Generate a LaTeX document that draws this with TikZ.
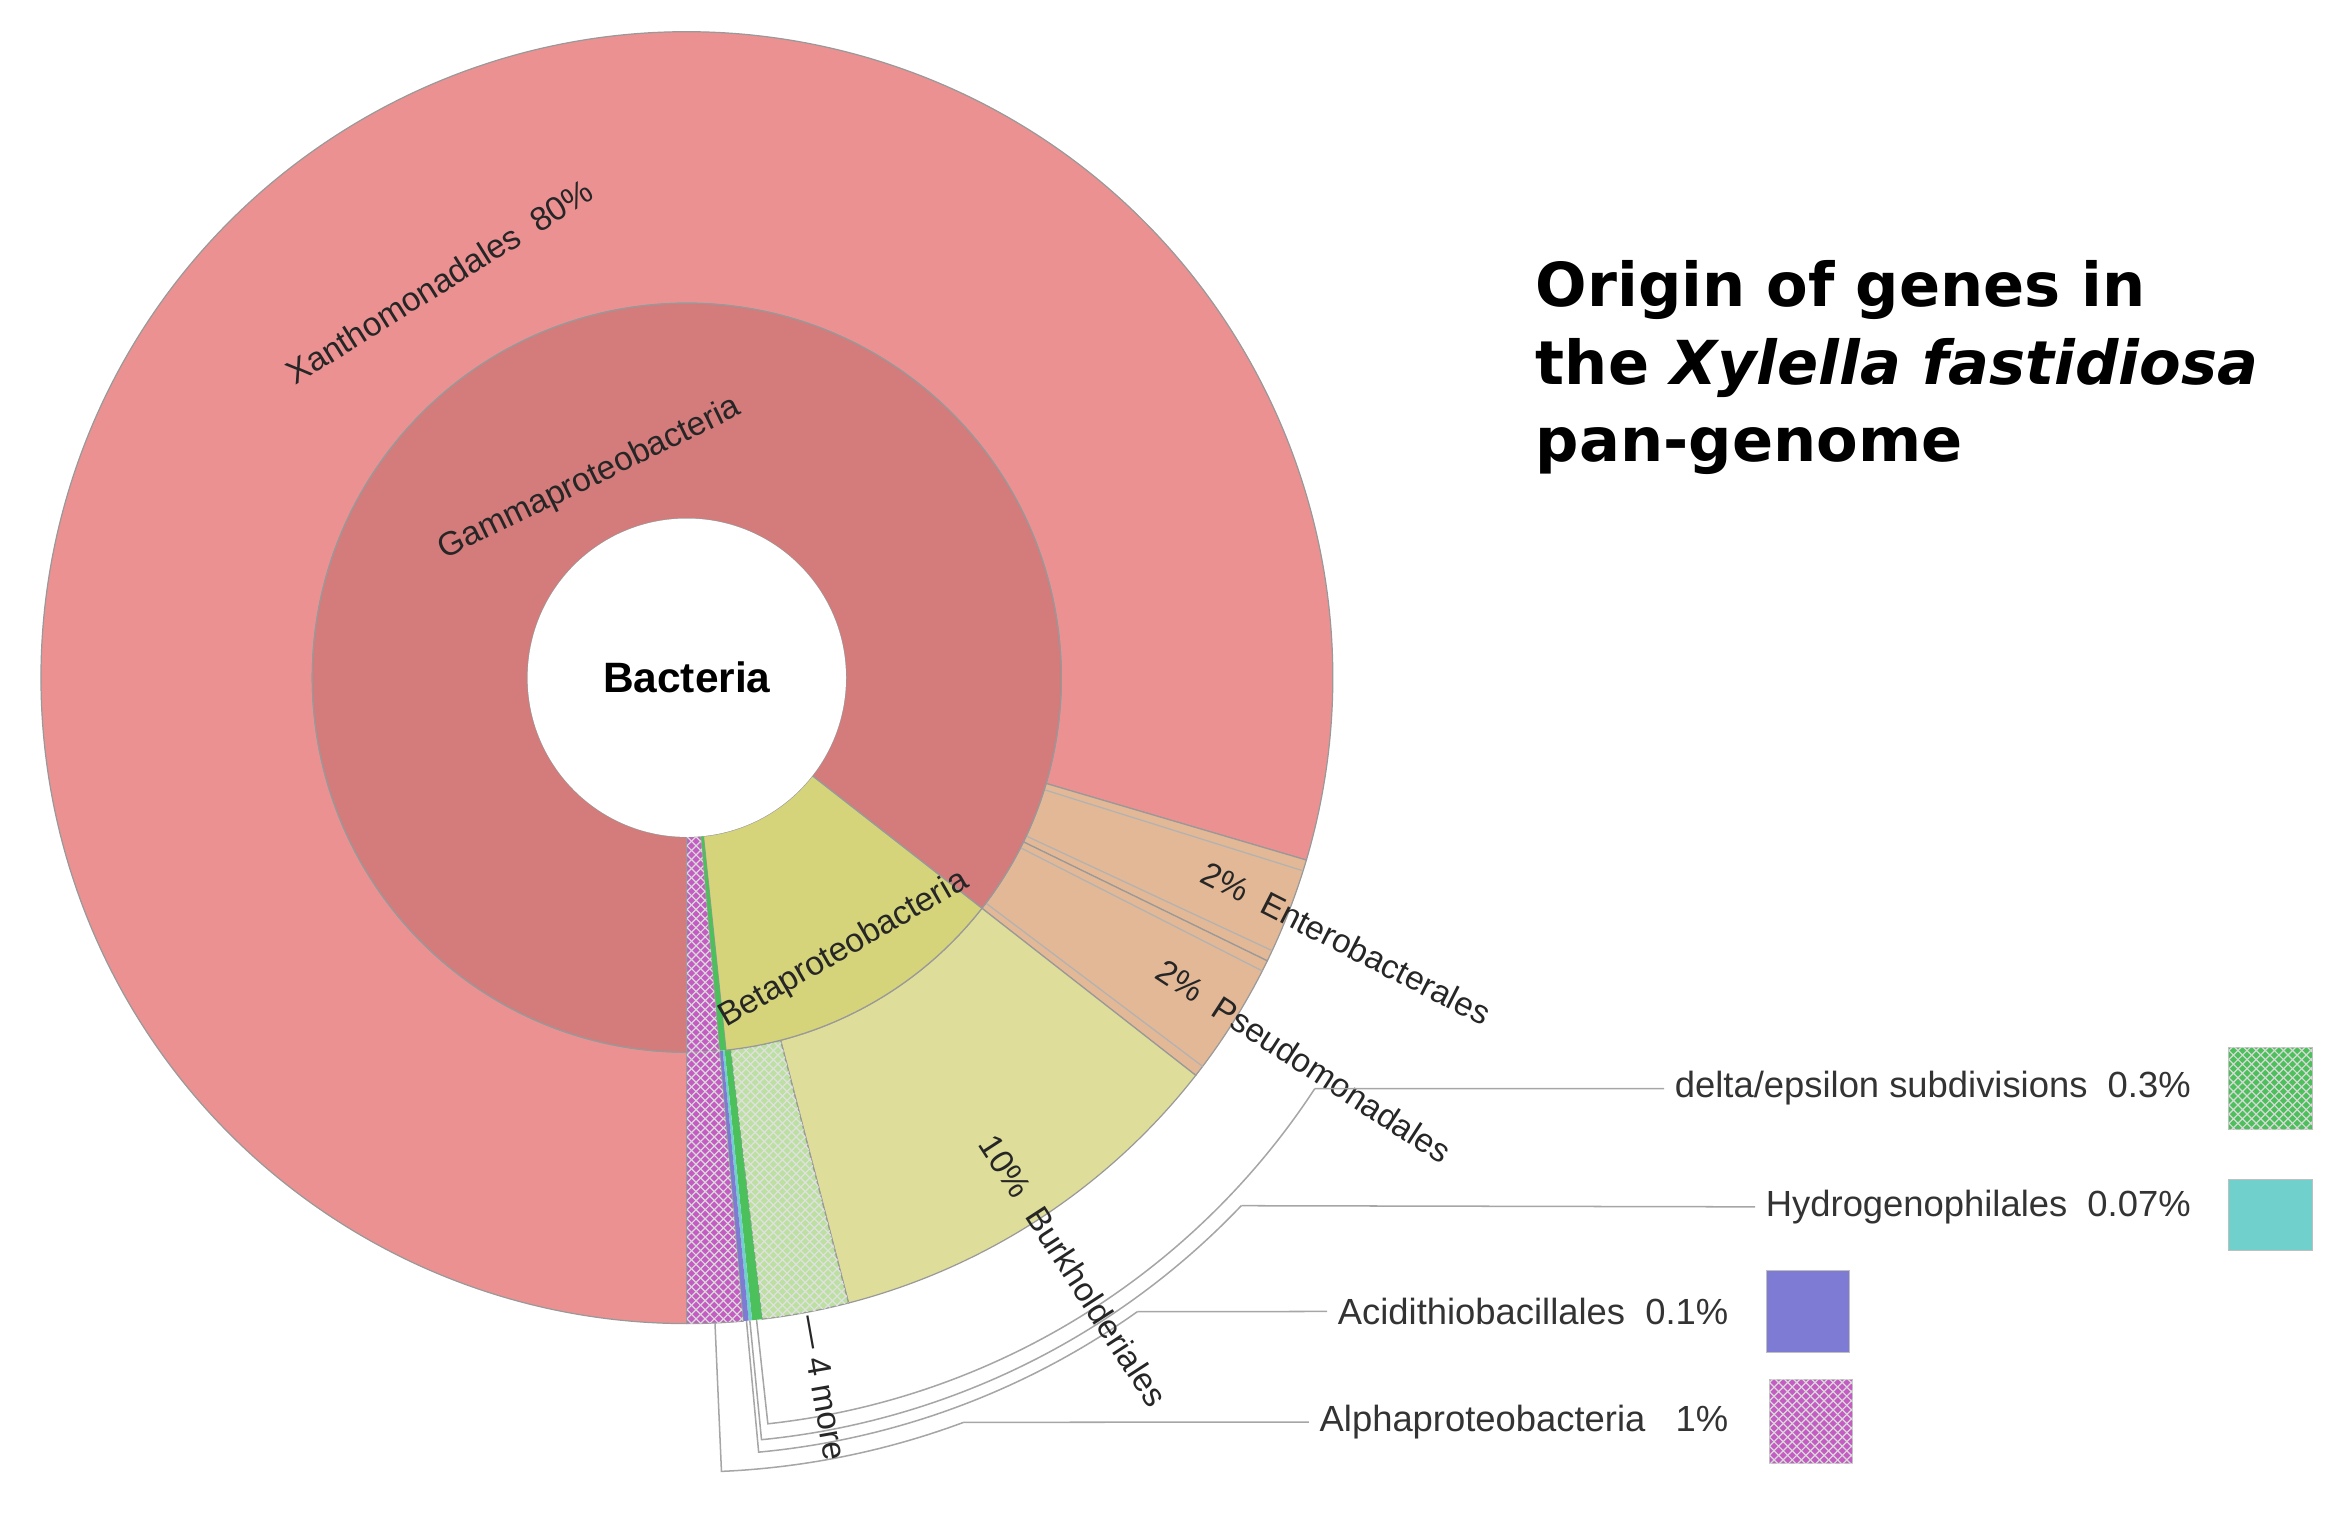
\documentclass[tikz,border=0pt]{standalone}
\usepackage{fontspec}
\setmainfont{Liberation Sans}
\newfontfamily\titlefont{DejaVu Sans}
\usetikzlibrary{patterns}
\definecolor{xan}{HTML}{EC9192}
\definecolor{gam}{HTML}{D47B7B}
\definecolor{betin}{HTML}{D6D47A}
\definecolor{burk}{HTML}{DEDD99}
\definecolor{ent}{HTML}{E2B896}
\definecolor{lgr}{HTML}{BCE0A0}
\definecolor{dgr}{HTML}{4CC05A}
\definecolor{tea}{HTML}{6FD0CC}
\definecolor{blu}{HTML}{7D7BD4}
\definecolor{mag}{HTML}{C45CC4}
\newcommand{\wedgeX}[5]{\fill[#5] (#1:#3) arc (#1:#2:#3) -- (#2:#4) arc (#2:#1:#4) -- cycle;}
\tikzset{lbl/.style={font=\fontsize{11}{13}\selectfont, text=black!85},
 leg/.style={font=\fontsize{12}{14}\selectfont, text=black!80},
 lead/.style={draw=black!35, line width=0.5pt},
 box/.style={draw=black!25, line width=0.3pt}}
\begin{document}
\begin{tikzpicture}[x=0.5pt,y=0.5pt]
\useasboundingbox (0,-1005) rectangle (1550,0);
\begin{scope}[shift={(453,-447)}]
\wedgeX{-16.4}{270}{426}{247}{xan,draw=black!40,line width=0.4pt}
\wedgeX{-26}{-16.4}{426}{247}{ent,draw=black!40,line width=0.4pt}
\wedgeX{-38}{-26}{426}{247}{ent,draw=black!40,line width=0.4pt}
\foreach \a in {-17.4,-25,-27,-37}{\draw[black!30,line width=0.4pt] (\a:247) -- (\a:426);}
\wedgeX{-75.5}{-38}{426}{247}{burk,draw=black!40,line width=0.4pt}
\wedgeX{-83.3}{-75.5}{426}{247}{lgr,draw=black!40,line width=0.4pt}
\fill[pattern=crosshatch,pattern color=black!12] (-83.3:426) arc (-83.3:-75.5:426) -- (-75.5:247) arc (-75.5:-83.3:247) -- cycle;
\wedgeX{-84.2}{-83.3}{426}{247}{dgr}
\wedgeX{-84.5}{-84.2}{426}{247}{tea}
\wedgeX{-85}{-84.5}{426}{247}{blu}
\wedgeX{-90}{-85}{426}{247}{mag,draw=black!40,line width=0.4pt}
\wedgeX{-38}{270}{247}{105}{gam,draw=black!40,line width=0.4pt}
\wedgeX{-84}{-38}{247}{105}{betin,draw=black!40,line width=0.4pt}
\wedgeX{-85}{-84}{247}{105}{dgr}
\wedgeX{-90}{-85}{247}{105}{mag,draw=black!40,line width=0.4pt}
\fill[pattern=crosshatch,pattern color=black!15] (-90:426) arc (-90:-85:426) -- (-85:105) arc (-85:-90:105) -- cycle;
\fill[white] (0,0) circle (105);
\node[font=\fontsize{14}{16}\selectfont\bfseries] (bac) at (0,0) {Bacteria};
\node[lbl,rotate=32] (xl) at (122:308) {Xanthomonadales\ \ 80\%};
\node[lbl,rotate=26] (gl) at (116:146) {Gammaproteobacteria};
\node[lbl,rotate=30] (bl) at (-60:207) {Betaproteobacteria};
\draw[lead] (-87.5:426) -- (-87.5:524) arc (-87.5:-69.6:524) coordinate (la);
\draw[lead] (-84.7:426) -- (-84.7:513) arc (-84.7:-54.6:513) coordinate (lc);
\draw[lead] (-84.4:426) -- (-84.4:505) arc (-84.4:-43.6:505) coordinate (lh);
\draw[lead] (-83.8:426) -- (-83.8:495) arc (-83.8:-33.2:495) coordinate (ld);
\end{scope}
\node[lbl,rotate=-27] (el) at (888,-622) {2\%\ \ Enterobacterales};
\node[lbl,rotate=-33] (pl) at (860,-700) {2\%\ \ Pseudomonadales};
\node[lbl,rotate=-57] (bu) at (708,-838) {10\%\ \ Burkholderiales};
\node[lbl,rotate=-80] (fm) at (543,-915) {--- 4 more};
\node[leg,anchor=east] (dt) at (1452,-718) {delta/epsilon subdivisions\ \ 0.3\%};
\node[leg,anchor=east] (ht) at (1452,-796) {Hydrogenophilales\ \ 0.07\%};
\node[leg,anchor=east] (at) at (1147,-865) {Acidithiobacillales\ \ 0.1\%};
\node[leg,anchor=east] (pt) at (1147,-938) {Alphaproteobacteria\ \ \ 1\%};
\draw[lead] (dt.west) -- (ld);
\draw[lead] (ht.west) -- (lh);
\draw[lead] (at.west) -- (lc);
\draw[lead] (pt.west) -- (la);
\filldraw[box,fill=dgr] (1470,-691) rectangle (1525,-745);
\fill[pattern=crosshatch,pattern color=black!15] (1470,-691) rectangle (1525,-745);
\filldraw[box,fill=tea] (1470,-778) rectangle (1525,-825);
\filldraw[box,fill=blu] (1165,-838) rectangle (1220,-892);
\filldraw[box,fill=mag] (1167,-910) rectangle (1222,-965);
\fill[pattern=crosshatch,pattern color=black!15] (1167,-910) rectangle (1222,-965);
\node[anchor=north west,align=left,font=\titlefont\fontsize{20}{25.5}\selectfont\bfseries] (title) at (1006,-165) {Origin of genes in\\the \textit{Xylella fastidiosa}\\pan-genome};
\end{tikzpicture}
\end{document}
